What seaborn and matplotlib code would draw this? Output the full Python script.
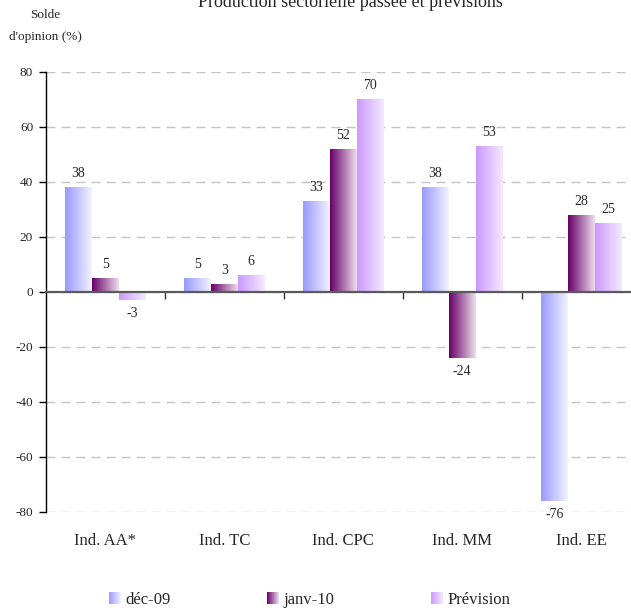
import numpy as np
import pandas as pd
import matplotlib
matplotlib.use("Agg")
import matplotlib.pyplot as plt
import seaborn as sns
from matplotlib.colors import LinearSegmentedColormap
from matplotlib.legend_handler import HandlerBase
from matplotlib.image import BboxImage
from matplotlib.transforms import Bbox, TransformedBbox
from matplotlib.patches import Patch

# ---------------- data ----------------
categories = ["Ind. AA*", "Ind. TC", "Ind. CPC", "Ind. MM", "Ind. EE"]
series = ["déc-09", "janv-10", "Prévision"]
dec09 = [38, 5, 33, 38, -76]
janv10 = [5, 3, 52, -24, 28]
prevision = [-3, 6, 70, 53, 25]
yticks = [-80, -60, -40, -20, 0, 20, 40, 60, 80]
title = "Production sectorielle passée et prévisions"
ylabel_lines = ["Solde", "d'opinion (%)"]

# ---------------- style ----------------
sns.set_theme(style="white")
plt.rcParams["font.family"] = ["Liberation Serif", "DejaVu Serif"]
plt.rcParams["axes.unicode_minus"] = False
TXT = "#262626"

grad_colors = {
    "déc-09": ["#9999FF", "#F2F2FF"],
    "janv-10": ["#660066", "#EEDFEE"],
    "Prévision": ["#CC99FF", "#F4EAFF"],
}
cmaps = [LinearSegmentedColormap.from_list(s, grad_colors[s]) for s in series]
mid_colors = [c(0.5) for c in cmaps]

df = pd.DataFrame({
    "cat": categories * 3,
    "serie": np.repeat(series, len(categories)),
    "val": dec09 + janv10 + prevision,
})

fig = plt.figure(figsize=(6.31, 6.10), dpi=100, facecolor="white")
ax = fig.add_axes([0.0724, 0.1607, 0.943, 0.7218])

sns.barplot(data=df, x="cat", y="val", hue="serie", order=categories,
            hue_order=series, palette=mid_colors, width=0.672, saturation=1,
            errorbar=None, legend=False, ax=ax)

# gradient fills clipped to each bar
grad = np.linspace(0, 1, 256).reshape(1, -1)
for cont, cmap in zip(ax.containers, cmaps):
    for bar in cont:
        x, y = bar.get_xy()
        w, h = bar.get_width(), bar.get_height()
        ext = [x, x + w, min(y, y + h), max(y, y + h)]
        im = ax.imshow(grad, extent=ext, cmap=cmap, aspect="auto",
                       interpolation="bilinear", zorder=bar.get_zorder())
        im.set_clip_path(bar)
        bar.set_facecolor("none")
        bar.set_edgecolor("none")
    ax.bar_label(cont, fmt="%g", padding=5, fontsize=10, color=TXT)

ax.set_xlim(-0.5, len(categories) - 0.5)
ax.set_ylim(yticks[0], yticks[-1])
ax.set_yticks(yticks)
ax.set_xlabel("")
ax.set_ylabel("")

# grid
ax.set_axisbelow(True)
ax.grid(axis="y", color="#C4C4C4", lw=1, ls=(0, (6.5, 4.3)))
ax.grid(axis="x", visible=False)

for s in ["top", "right", "bottom"]:
    ax.spines[s].set_visible(False)
ax.spines["left"].set_color("black")
ax.spines["left"].set_linewidth(1)

ax.tick_params(axis="y", left=True, direction="out", length=5, width=1,
               color="black", labelsize=9.5, labelcolor=TXT, pad=4)
ax.tick_params(axis="x", bottom=False, length=0, pad=15, labelsize=12,
               labelcolor=TXT)

# zero axis with category-boundary ticks
sec = ax.secondary_xaxis(0.49999)
sec.set_xticks(np.arange(0.5, len(categories) - 1, 1))
sec.set_xticklabels([])
sec.tick_params(direction="out", length=5, width=1, color="#333333")
for s in sec.spines.values():
    s.set_visible(False)
sec.spines["bottom"].set_visible(True)
sec.spines["bottom"].set_color("#5A5A5A")
sec.spines["bottom"].set_linewidth(1.6)
sec.set_zorder(5)

# title & y label
fig.text(0.556, 0.9885, title, ha="center", va="baseline", fontsize=13,
         color=TXT)
fig.text(0.0713, 0.9754, ylabel_lines[0], ha="center", va="center",
         fontsize=9.5, color=TXT)
fig.text(0.0713, 0.940, ylabel_lines[1], ha="center", va="center",
         fontsize=9.5, color=TXT)


# legend with gradient squares
class GradHandler(HandlerBase):
    def __init__(self, cmap):
        super().__init__()
        self.cmap = cmap

    def create_artists(self, legend, orig_handle, xdescent, ydescent,
                       width, height, fontsize, trans):
        bb = TransformedBbox(Bbox.from_bounds(-xdescent, -ydescent,
                                              width, height), trans)
        img = BboxImage(bb, cmap=self.cmap, interpolation="bilinear")
        img.set_data(grad)
        return [img]


handles = [Patch(facecolor=c) for c in mid_colors]
hmap = {h: GradHandler(c) for h, c in zip(handles, cmaps)}
fig.legend(handles, series, handler_map=hmap, loc="center",
           bbox_to_anchor=(0.491, 0.0164), ncol=3, frameon=False,
           fontsize=12, handlelength=0.67, handleheight=0.67,
           handletextpad=0.3, columnspacing=5.8, borderpad=0,
           labelcolor=TXT)

fig.savefig("out.png", dpi=100, facecolor="white")
